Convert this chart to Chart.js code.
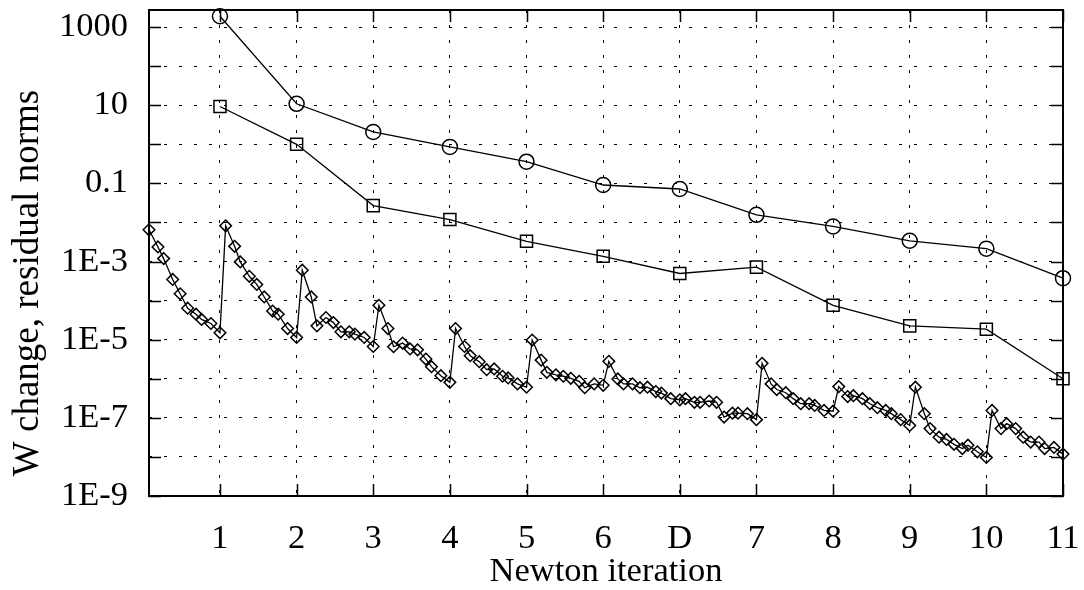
<!DOCTYPE html>
<html>
<head>
<meta charset="utf-8">
<script src="https://cdn.jsdelivr.net/npm/chart.js@4.4.1/dist/chart.umd.min.js"></script>
<style>
  html, body { margin: 0; padding: 0; background: #fff; }
</style>
</head>
<body>
<canvas id="newton_chart" width="1084" height="590"></canvas>
<script>
// Newton iterations (position on the x axis) and their labels
const iterPos = [1, 2, 3, 4, 5, 6, 7, 8, 9, 10, 11, 12];
const iterLabels = ['1', '2', '3', '4', '5', '6', 'D', '7', '8', '9', '10', '11'];

// circles: residual norm, squares: W change
const residualNorm = [1900, 10.9, 2.07, 0.86, 0.36, 0.091, 0.072, 0.0157, 0.0079, 0.0034, 0.00214, 3.76e-4];
const wChange = [9.3, 1.0, 0.027, 0.0119, 0.0033, 0.00136, 4.95e-4, 7.2e-4, 7.6e-5, 2.26e-5, 1.86e-5, 1.0e-6];

// diamonds: inner steps, 10 per Newton iteration, placed at these fractions
const subFrac = [0.074, 0.191, 0.265, 0.383, 0.48, 0.578, 0.687, 0.76, 0.882, 1.0];
const innerNorms = [
  [6.5e-3, 2.36e-3, 1.19e-3, 3.48e-4, 1.5e-4, 6.4e-5, 4.5e-5, 3.3e-5, 2.6e-5, 1.5e-5],
  [8.2e-3, 2.45e-3, 9.8e-4, 4.2e-4, 2.6e-4, 1.24e-4, 5.4e-5, 4.5e-5, 1.93e-5, 1.14e-5],
  [6.0e-4, 1.24e-4, 2.26e-5, 3.7e-5, 2.74e-5, 1.59e-5, 1.59e-5, 1.39e-5, 1.14e-5, 6.7e-6],
  [7.6e-5, 1.93e-5, 6.6e-6, 8.2e-6, 5.8e-6, 5.5e-6, 3.2e-6, 2.04e-6, 1.2e-6, 8.1e-7],
  [1.93e-5, 6.7e-6, 3.9e-6, 2.74e-6, 1.71e-6, 1.79e-6, 1.16e-6, 1.05e-6, 7.4e-7, 6.1e-7],
  [9.8e-6, 3.0e-6, 1.46e-6, 1.26e-6, 1.16e-6, 1.03e-6, 8.6e-7, 5.9e-7, 7.4e-7, 6.8e-7],
  [2.79e-6, 9.9e-7, 7.4e-7, 7.4e-7, 5.9e-7, 6.1e-7, 4.7e-7, 4.3e-7, 3.1e-7, 2.9e-7],
  [3.1e-7, 2.5e-7, 2.5e-7, 2.7e-7, 2.5e-7, 1.05e-7, 1.32e-7, 1.32e-7, 1.28e-7, 9.0e-8],
  [2.48e-6, 7.4e-7, 5.3e-7, 4.4e-7, 3.1e-7, 2.3e-7, 2.3e-7, 2.08e-7, 1.55e-7, 1.48e-7],
  [6.3e-7, 3.5e-7, 3.7e-7, 3.1e-7, 2.3e-7, 1.82e-7, 1.55e-7, 1.28e-7, 9.0e-8, 6.4e-8],
  [6.1e-7, 1.28e-7, 5.3e-8, 3.2e-8, 2.8e-8, 2.1e-8, 1.64e-8, 2.0e-8, 1.35e-8, 9.7e-9],
  [1.55e-7, 5.3e-8, 7.1e-8, 5.3e-8, 3.2e-8, 2.4e-8, 2.4e-8, 1.64e-8, 1.75e-8, 1.18e-8]
];

// y axis: a grid line every decade, a label every second one
const yTickValues = [1e-9, 1e-8, 1e-7, 1e-6, 1e-5, 1e-4, 1e-3, 1e-2, 1e-1, 1, 10, 100, 1000];
const yTickLabels = ['1E-9', '', '1E-7', '', '1E-5', '', '1E-3', '', '0.1', '', '10', '', '1000'];
const yMin = 1e-9;
const yMax = 2740;

const SERIF = '"Liberation Serif", "Times New Roman", serif';
const FONT = { family: SERIF, size: 34.5, lineHeight: 1.2 };

var outerPts = function(vals){
    return iterPos.map(function(x, i){ return { x: x, y: vals[i] }; });
};

var innerPts = [];
innerNorms.forEach(function(group, k){
    group.forEach(function(v, j){
        innerPts.push({ x: k + subFrac[j], y: v });
    });
});

// box and inward tick marks on all four sides, like gnuplot
const frameTicks = {
    id: 'frameTicks',
    afterDraw: function(chart){
        const ctx = chart.ctx;
        const a = chart.chartArea;
        const xs = chart.scales.x, ys = chart.scales.y;
        const len = 12;
        ctx.save();
        ctx.strokeStyle = '#000';
        ctx.lineWidth = 1.5;
        ctx.beginPath();
        yTickValues.forEach(function(v){
            const py = Math.round(ys.getPixelForValue(v)) + 0.5;
            ctx.moveTo(a.left, py); ctx.lineTo(a.left + len, py);
            ctx.moveTo(a.right, py); ctx.lineTo(a.right - len, py);
        });
        iterPos.forEach(function(v){
            const px = Math.round(xs.getPixelForValue(v)) + 0.5;
            ctx.moveTo(px, a.bottom); ctx.lineTo(px, a.bottom - len);
            ctx.moveTo(px, a.top); ctx.lineTo(px, a.top + len);
        });
        ctx.stroke();
        ctx.lineWidth = 2;
        ctx.strokeRect(a.left, a.top, a.right - a.left, a.bottom - a.top);
        ctx.restore();

        // y axis title, sits a bit below the plot centre in the original
        ctx.save();
        ctx.fillStyle = '#000';
        ctx.font = '37px ' + SERIF;
        ctx.textAlign = 'center';
        ctx.textBaseline = 'alphabetic';
        ctx.translate(38, 283);
        ctx.rotate(-Math.PI / 2);
        ctx.fillText('W change, residual norms', 0, 0);
        ctx.restore();
    }
};

const commonSet = {
    borderColor: '#000',
    backgroundColor: 'rgba(0,0,0,0)',
    borderWidth: 1.3,
    pointBorderColor: '#000',
    pointBackgroundColor: 'rgba(0,0,0,0)',
    pointBorderWidth: 1.5,
    tension: 0,
    clip: false
};

new Chart(document.getElementById('newton_chart').getContext('2d'), {
    type: 'line',
    data: {
        datasets: [
            Object.assign({ label: 'residual', data: outerPts(residualNorm), pointStyle: 'circle', pointRadius: 7.5 }, commonSet),
            Object.assign({ label: 'W change', data: outerPts(wChange), pointStyle: 'rect', pointRadius: 8.5 }, commonSet),
            Object.assign({ label: 'inner', data: innerPts, pointStyle: 'rectRot', pointRadius: 5.8 }, commonSet)
        ]
    },
    options: {
        responsive: false,
        animation: false,
        events: [],
        layout: { padding: { left: 0, right: 21, top: 7, bottom: 0 } },
        plugins: { legend: { display: false }, tooltip: { enabled: false } },
        scales: {
            x: {
                type: 'linear',
                min: subFrac[0],
                max: 12,
                afterBuildTicks: function(scale){
                    scale.ticks = iterPos.map(function(v){ return { value: v }; });
                },
                afterFit: function(scale){
                    scale.height = 94;
                    scale.paddingLeft = 0;
                    scale.paddingRight = 0;
                },
                grid: { color: '#000', lineWidth: 1, drawTicks: false },
                border: { display: false, dash: [3, 12] },
                ticks: {
                    autoSkip: false,
                    maxRotation: 0,
                    padding: 22,
                    color: '#000',
                    font: FONT,
                    callback: function(v){ return iterLabels[iterPos.indexOf(v)]; }
                },
                title: {
                    display: true,
                    text: 'Newton iteration',
                    color: '#000',
                    font: { family: SERIF, size: 34.5, lineHeight: 1 },
                    padding: { top: 0, bottom: 1 }
                }
            },
            y: {
                type: 'logarithmic',
                min: yMin,
                max: yMax,
                afterBuildTicks: function(scale){
                    scale.ticks = yTickValues.map(function(v){ return { value: v }; });
                },
                afterFit: function(scale){
                    scale.width = 149;
                    scale.paddingTop = 0;
                    scale.paddingBottom = 0;
                },
                grid: { color: '#000', lineWidth: 1, drawTicks: false },
                border: { display: false, dash: [3, 12] },
                ticks: {
                    autoSkip: false,
                    padding: 21,
                    color: '#000',
                    font: FONT,
                    callback: function(v, i){ return yTickLabels[i]; }
                }
            }
        }
    },
    plugins: [frameTicks]
});
</script>
</body>
</html>
